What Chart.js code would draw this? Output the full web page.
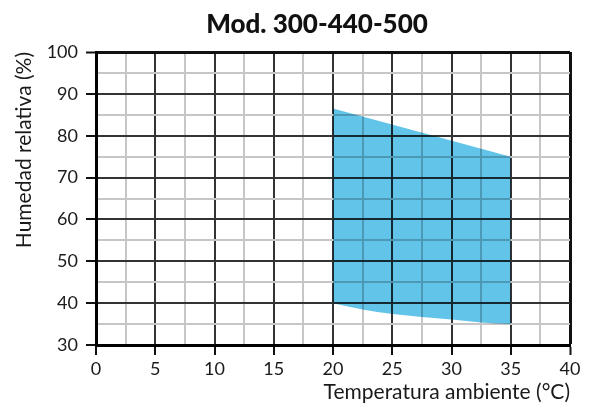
<!DOCTYPE html>
<html lang="es">
<head>
    <meta charset="UTF-8">
    <title>Mod. 300-440-500</title>
    <style>
        html, body { margin: 0; padding: 0; background: #fff; }
        #wrap { width: 590px; height: 409px; }
    </style>
    <script src="https://cdn.jsdelivr.net/npm/chart.js"></script>
</head>
<body>
    <div id="wrap"><canvas id="campo"></canvas></div>

    <script>
        // Límite superior del campo de trabajo (recta)
        const tempSup = [20, 35];
        const humSup = [86.5, 75];
        // Límite inferior (curva)
        const tempInf = [20, 22.5, 25, 27.5, 30, 32.5, 35];
        const humInf = [40, 38.5, 37.4, 36.7, 36.1, 35.4, 35];

        const titulo = 'Mod. 300-440-500';
        const tituloX = 'Temperatura ambiente (°C)';
        const tituloY = 'Humedad relativa (%)';

        const fuente = 'Lato, "DejaVu Sans", sans-serif';

        function puntos(xs, ys) {
            return xs.map((x, i) => ({ x: x, y: ys[i] }));
        }

        // la zona azul se mezcla en modo "multiply" para que la cuadrícula se vea a través
        const mezcla = {
            id: 'mezcla',
            beforeDatasetsDraw(chart) {
                chart.ctx.save();
                chart.ctx.globalCompositeOperation = 'multiply';
            },
            afterDatasetsDraw(chart) {
                chart.ctx.restore();
            }
        };

        const cabecera = {
            id: 'cabecera',
            afterDraw(chart) {
                const ctx = chart.ctx;
                ctx.save();
                ctx.font = '900 26px ' + fuente;
                ctx.fillStyle = '#111';
                ctx.textAlign = 'center';
                ctx.textBaseline = 'middle';
                ctx.fillText(titulo, 317, 25);
                ctx.restore();
            }
        };

        function rejilla(paso, max) {
            return {
                color: (c) => {
                    const v = c.tick.value;
                    if (v === max) return '#111';
                    return v % paso === 0 ? '#333' : '#c6c6c6';
                },
                lineWidth: (c) => c.tick.value === max ? 3 : 2,
                tickLength: 10,
                tickWidth: 2,
                tickColor: (c) => c.tick.value % paso === 0 ? '#111' : 'rgba(0,0,0,0)'
            };
        }

        window.onload = function() {
            const ctx = document.getElementById('campo').getContext('2d');
            new Chart(ctx, {
                type: 'line',
                data: {
                    datasets: [{
                        data: puntos(tempSup, humSup),
                        borderWidth: 0,
                        pointRadius: 0,
                        backgroundColor: '#62c4e9',
                        fill: '+1'
                    }, {
                        data: puntos(tempInf, humInf),
                        borderWidth: 0,
                        pointRadius: 0,
                        cubicInterpolationMode: 'monotone',
                        fill: false
                    }]
                },
                options: {
                    responsive: true,
                    maintainAspectRatio: false,
                    animation: false,
                    layout: { padding: { top: 52, left: 12, right: 20, bottom: 4 } },
                    plugins: {
                        legend: { display: false },
                        tooltip: { enabled: false }
                    },
                    scales: {
                        x: {
                            type: 'linear',
                            min: 0,
                            max: 40,
                            grid: rejilla(5, 40),
                            border: { display: true, color: '#000', width: 3 },
                            ticks: {
                                stepSize: 2.5,
                                autoSkip: false,
                                maxRotation: 0,
                                padding: 3,
                                color: '#1a1a1a',
                                font: { family: fuente, size: 18 },
                                callback: (v) => v % 5 === 0 ? v : ''
                            },
                            title: {
                                display: true,
                                text: tituloX,
                                align: 'end',
                                color: '#1a1a1a',
                                font: { family: fuente, size: 21 },
                                padding: { top: 2, bottom: 0 }
                            },
                            afterFit: (s) => { s.height = 60; }
                        },
                        y: {
                            min: 30,
                            max: 100,
                            grid: rejilla(10, 100),
                            border: { display: true, color: '#000', width: 3 },
                            ticks: {
                                stepSize: 5,
                                autoSkip: false,
                                padding: 8,
                                color: '#1a1a1a',
                                font: { family: fuente, size: 18 },
                                callback: (v) => v % 10 === 0 ? v : ''
                            },
                            title: {
                                display: true,
                                text: tituloY,
                                align: 'end',
                                color: '#1a1a1a',
                                font: { family: fuente, size: 21 },
                                padding: { top: 0, bottom: 4 }
                            },
                            afterFit: (s) => { s.width = 84; }
                        }
                    }
                },
                plugins: [mezcla, cabecera]
            });
        };
    </script>
</body>
</html>
